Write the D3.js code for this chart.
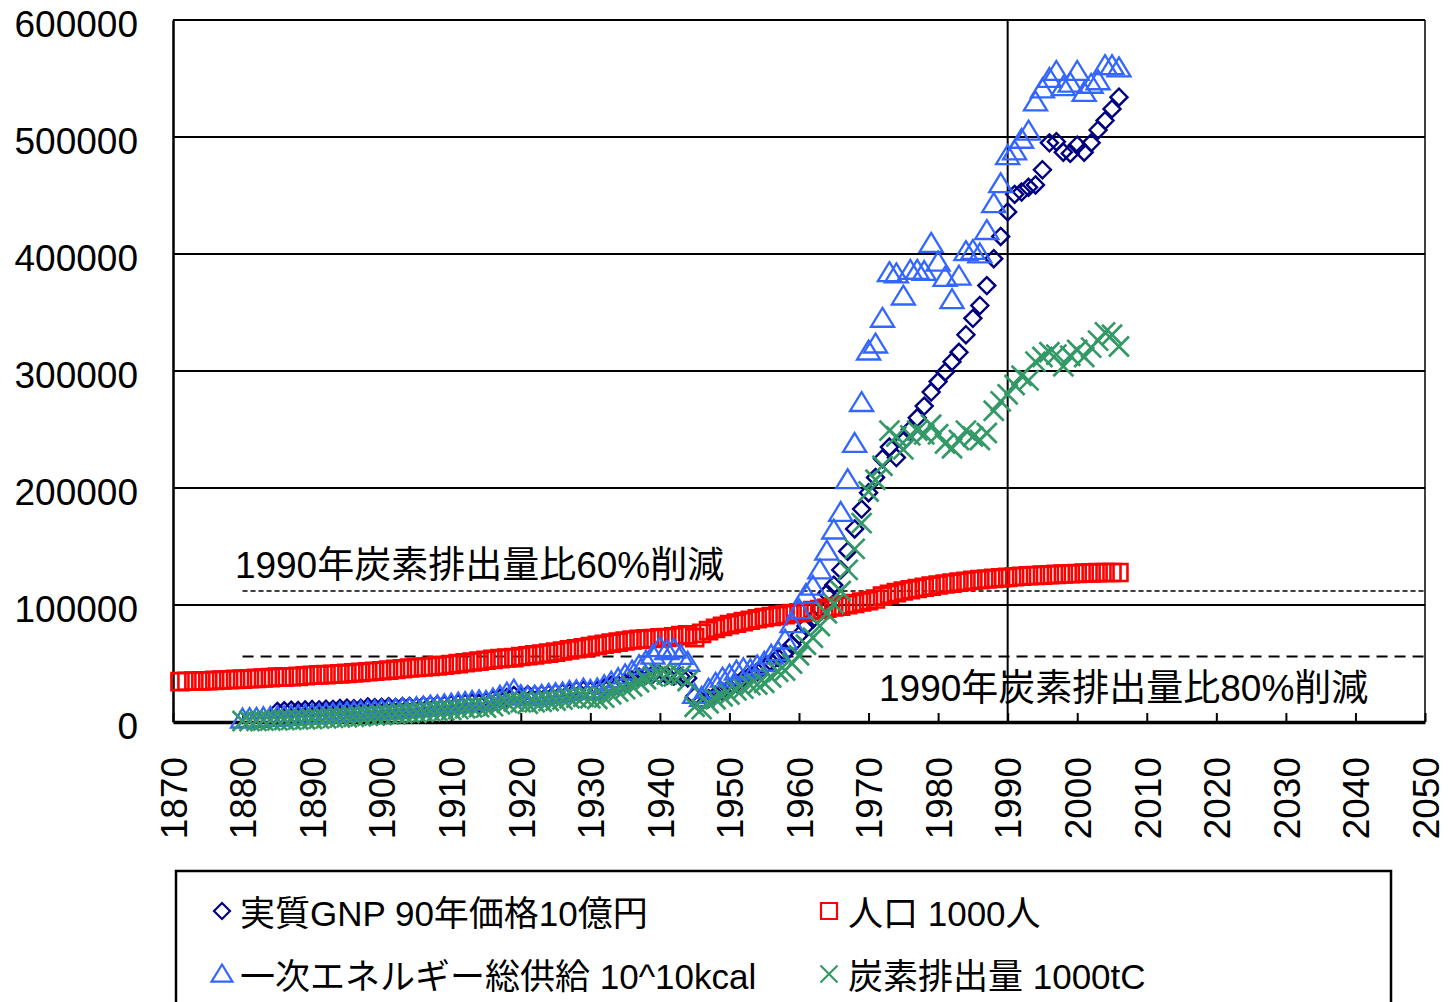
<!DOCTYPE html>
<html>
<head>
<meta charset="utf-8">
<script src="https://cdn.jsdelivr.net/npm/d3@7"></script>
<style>
  html, body { margin: 0; padding: 0; background: #fff; }
  #chart { width: 1449px; height: 1002px; }
</style>
</head>
<body>
<div id="chart"></div>
<script>
// 各系列の値
const popStart = 1871;
const population = [
  34500, 34806, 34985, 35154, 35316, 35555, 35870, 36166, 36464, 36649,
  36965, 37259, 37569, 37962, 38313, 38541, 38703, 39029, 39473, 39902,
  40251, 40508, 40860, 41142, 41557, 41992, 42400, 42886, 43404, 43847,
  44359, 44964, 45546, 46135, 46620, 47038, 47416, 47965, 48554, 49184,
  49852, 50577, 51305, 52039, 52752, 53496, 54134, 54739, 55033, 55963,
  56666, 57390, 58119, 58876, 59737, 60741, 61659, 62595, 63461, 64450,
  65457, 66434, 67432, 68309, 69254, 70114, 70630, 71013, 71380, 71933,
  72218, 72880, 73903, 74433, 72147, 75750, 78101, 80002, 81773, 83200,
  84541, 85808, 86981, 88239, 89276, 90172, 90928, 91767, 92641, 93419,
  94287, 95181, 96156, 97182, 98275, 99036, 100196, 101331, 102536, 103720,
  105145, 107595, 109104, 110573, 111940, 113094, 114165, 115190, 116155, 117060,
  117902, 118728, 119536, 120305, 121049, 121660, 122239, 122745, 123205, 123611,
  124101, 124567, 124938, 125265, 125570, 125859, 126157, 126472, 126667, 126926,
  127316, 127486, 127694, 127787, 127768, 127770
];

const gnpStart = 1885;
const gnp = [
  9000, 9600, 10100, 9800, 10300, 10700, 10400, 10900, 10800, 11600,
  11900, 11400, 11700, 12900, 12300, 12600, 13100, 12500, 13200, 13300,
  12900, 14100, 14500, 14700, 14600, 15000, 15800, 16200, 16300, 16000,
  17400, 19000, 20300, 21000, 22700, 21700, 23400, 23200, 23300, 23800,
  24600, 24800, 25400, 27100, 27200, 26800, 27000, 29000, 31400, 31700,
  33400, 35900, 38300, 39900, 41000, 40500, 39800, 39200, 38900, 37500,
  22000, 18000, 20000, 23000, 26000, 29000, 33000, 37000, 40000, 43000,
  47000, 51000, 55000, 59000, 66000, 74000, 82000, 88000, 97000, 110000,
  117000, 130000, 146000, 165000, 182000, 196000, 209000, 225000, 235000, 226000,
  240000, 250000, 260000, 270000, 282000, 291000, 299000, 308000, 316000, 331000,
  345000, 356000, 373000, 396000, 415000, 436000, 451000, 453000, 457000, 459000,
  472000, 495000, 496000, 487000, 486000, 493000, 487000, 495000, 506000, 514000,
  524000, 534000
];

const energyStart = 1880;
const energy = [
  2500, 2900, 3100, 3600, 3800, 4200, 4600, 4900, 5400, 5700,
  6100, 6400, 6900, 7100, 7700, 8000, 8400, 8700, 9300, 9400,
  9900, 10400, 10600, 11300, 11600, 12200, 12700, 13500, 13700, 14600,
  15300, 16100, 16600, 17600, 18000, 17600, 19600, 22000, 24600, 27200,
  22500, 21400, 22100, 22700, 23600, 24100, 24900, 26100, 26700, 28100,
  27000, 28200, 31000, 34100, 36900, 40200, 43500, 48200, 52000, 57100,
  63500, 61000, 62300, 56800, 51000, 23500, 21000, 28000, 33000, 37500,
  40000, 43500, 45500, 44500, 48000, 51000, 57000, 60000, 70000, 84000,
  96000, 109000, 116000, 130000, 146000, 164000, 179000, 207000, 238000, 273000,
  317000, 323000, 345000, 384000, 383000, 364000, 386000, 386000, 385000, 409000,
  393000, 380000, 361000, 381000, 402000, 403000, 400000, 420000, 443000, 460000,
  484000, 488000, 498000, 505000, 530000, 541000, 550000, 556000, 543000, 546000,
  556000, 538000, 545000, 548000, 561000, 561000, 559000
];

const carbonStart = 1880;
const carbon = [
  800, 900, 1000, 1200, 1300, 1400, 1700, 1800, 2100, 2300,
  2500, 2900, 3100, 3500, 3800, 4100, 4500, 4900, 5300, 5600,
  6000, 6500, 6800, 7300, 7600, 7900, 8600, 9100, 9400, 9800,
  10300, 11000, 11800, 12500, 12700, 12300, 13600, 15200, 16400, 17500,
  16800, 15600, 16900, 17300, 18000, 18400, 19200, 20300, 20800, 21600,
  20300, 19600, 20800, 23700, 26000, 28100, 30500, 34000, 36500, 39000,
  41000, 40500, 39000, 40000, 35000, 13000, 11000, 16000, 19500, 22000,
  23500, 27000, 28500, 31500, 32000, 33500, 38000, 43000, 44000, 50000,
  57000, 66000, 72000, 82000, 93000, 101000, 112000, 130000, 148000, 170000,
  197000, 207000, 219000, 249000, 244000, 233000, 245000, 249000, 246000, 254000,
  246000, 238000, 234000, 241000, 249000, 244000, 241000, 247000, 266000, 274000,
  280000, 288000, 296000, 292000, 308000, 312000, 316000, 314000, 304000, 313000,
  318000, 312000, 320000, 326000, 333000, 331000, 321000
];

const yTicks = [0, 100000, 200000, 300000, 400000, 500000, 600000];
const xTicks = [1870, 1880, 1890, 1900, 1910, 1920, 1930, 1940, 1950, 1960,
                1970, 1980, 1990, 2000, 2010, 2020, 2030, 2040, 2050];

const legendLabels = [
  "実質GNP 90年価格10億円",
  "人口 1000人",
  "一次エネルギー総供給 10^10kcal",
  "炭素排出量 1000tC"
];
const cutLabel60 = "1990年炭素排出量比60%削減";
const cutLabel80 = "1990年炭素排出量比80%削減";

(() => {
  const W = 1449, H = 1002;
  const plot = { left: 173, right: 1425, top: 20, bottom: 722 };
  const font = '"Liberation Sans", Arial, "Noto Sans CJK JP", sans-serif';

  const svg = d3.select("#chart").append("svg")
    .attr("width", W)
    .attr("height", H)
    .style("font-family", font);

  svg.append("rect").attr("width", W).attr("height", H).attr("fill", "#fff");

  const x = d3.scaleLinear().domain([1870, 2050]).range([plot.left, plot.right]);
  const y = d3.scaleLinear().domain([0, 600000]).range([plot.bottom, plot.top]);

  // 横グリッド線
  svg.append("g")
    .selectAll("line")
    .data(yTicks.slice(1))
    .join("line")
    .attr("x1", plot.left).attr("x2", plot.right)
    .attr("y1", d => y(d)).attr("y2", d => y(d))
    .attr("stroke", "#000")
    .attr("stroke-width", 2);

  // 右の枠
  svg.append("line")
    .attr("x1", plot.right).attr("x2", plot.right)
    .attr("y1", plot.top).attr("y2", plot.bottom)
    .attr("stroke", "#000").attr("stroke-width", 1.5);

  // 1990年の縦線
  svg.append("line")
    .attr("x1", x(1990)).attr("x2", x(1990))
    .attr("y1", plot.top).attr("y2", plot.bottom)
    .attr("stroke", "#000").attr("stroke-width", 2);

  // Y軸
  const yAxis = svg.append("g")
    .attr("transform", `translate(${plot.left},0)`)
    .call(d3.axisLeft(y).tickValues(yTicks).tickSize(0).tickPadding(35).tickFormat(d3.format("d")));
  yAxis.select(".domain").attr("stroke", "#000").attr("stroke-width", 2.5);
  yAxis.selectAll("text")
    .attr("fill", "#000")
    .attr("dy", "0.45em")
    .style("font-size", "37px")
    .style("font-family", font);

  // X軸（目盛りは内向き）
  const xAxis = svg.append("g")
    .attr("transform", `translate(0,${plot.bottom})`)
    .call(d3.axisBottom(x).tickValues(xTicks).tickSizeInner(-9).tickSizeOuter(0).tickFormat(d3.format("d")));
  xAxis.select(".domain").attr("stroke", "#000").attr("stroke-width", 3.5);
  xAxis.selectAll(".tick line").attr("stroke", "#000").attr("stroke-width", 2);
  xAxis.selectAll("text")
    .attr("fill", "#000")
    .attr("transform", "rotate(-90)")
    .attr("text-anchor", "end")
    .attr("x", -35)
    .attr("y", 0)
    .attr("dy", "0.36em")
    .style("font-size", "37px")
    .style("font-family", font);

  // 削減目標の点線（1990年炭素排出量基準）
  const c1990 = carbon[1990 - carbonStart];
  const cutLines = [
    { v: c1990 * 0.4, dash: "5,3", w: 1.6 },
    { v: c1990 * 0.2, dash: "11,7", w: 1.8 }
  ];
  svg.append("g")
    .selectAll("line")
    .data(cutLines)
    .join("line")
    .attr("x1", x(1880)).attr("x2", plot.right)
    .attr("y1", d => y(d.v)).attr("y2", d => y(d.v))
    .attr("stroke", "#000")
    .attr("stroke-width", d => d.w)
    .attr("stroke-dasharray", d => d.dash);

  svg.append("text")
    .attr("x", x(1878.9))
    .attr("y", y(c1990 * 0.4) - 13)
    .style("font-size", "37px")
    .attr("fill", "#000")
    .text(cutLabel60);

  svg.append("text")
    .attr("x", x(1971.5))
    .attr("y", y(c1990 * 0.2) + 45)
    .style("font-size", "37px")
    .attr("fill", "#000")
    .text(cutLabel80);

  // マーカー形状
  const diamond = s => `M0,${-s}L${s},0L0,${s}L${-s},0Z`;
  const square = s => `M${-s},${-s}H${s}V${s}H${-s}Z`;
  const triangle = s => `M0,${-s}L${s * 1.1},${s * 0.8}L${-s * 1.1},${s * 0.8}Z`;
  const cross = s => `M${-s},${-s}L${s},${s}M${-s},${s}L${s},${-s}`;

  const series = [
    { values: gnp, start: gnpStart, color: "#000080", path: diamond(8.5), width: 2.4, label: legendLabels[0], lpath: diamond(8) },
    { values: population, start: popStart, color: "#ff0000", path: square(8.5), width: 2.6, label: legendLabels[1], lpath: square(8) },
    { values: energy, start: energyStart, color: "#3366ff", path: triangle(10.5), width: 2.3, label: legendLabels[2], lpath: triangle(9.5) },
    { values: carbon, start: carbonStart, color: "#339966", path: cross(10), width: 2.7, label: legendLabels[3], lpath: cross(8.5) }
  ];

  series.forEach(s => {
    const pts = s.values.map((v, i) => ({ year: s.start + i, value: v }));
    svg.append("g")
      .selectAll("path")
      .data(pts)
      .join("path")
      .attr("transform", d => `translate(${x(d.year)},${y(d.value)})`)
      .attr("d", s.path)
      .attr("fill", "none")
      .attr("stroke", s.color)
      .attr("stroke-width", s.width);
  });

  // 凡例
  const legend = svg.append("g");
  legend.append("rect")
    .attr("x", 176).attr("y", 871)
    .attr("width", 1215).attr("height", 160)
    .attr("fill", "#fff")
    .attr("stroke", "#000")
    .attr("stroke-width", 2.5);

  const legendPos = [
    { mx: 222, tx: 240, y: 911 },
    { mx: 829, tx: 848, y: 911 },
    { mx: 222, tx: 240, y: 974 },
    { mx: 829, tx: 848, y: 974 }
  ];
  series.forEach((s, i) => {
    const p = legendPos[i];
    legend.append("path")
      .attr("transform", `translate(${p.mx},${p.y})`)
      .attr("d", s.lpath)
      .attr("fill", "none")
      .attr("stroke", s.color)
      .attr("stroke-width", 2.2);
    legend.append("text")
      .attr("x", p.tx)
      .attr("y", p.y + 15)
      .style("font-size", "35px")
      .attr("fill", "#000")
      .text(s.label);
  });
})();
</script>
</body>
</html>
